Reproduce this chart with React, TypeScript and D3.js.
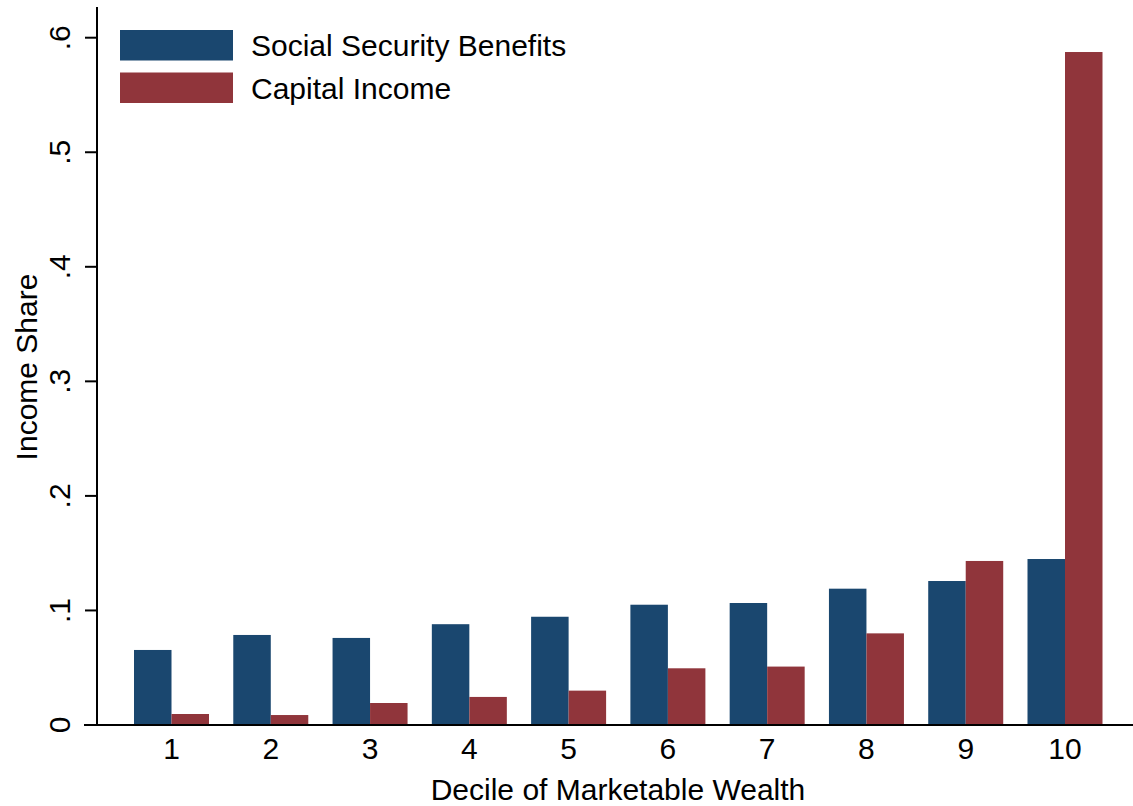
import React from "react";
import * as d3 from "d3";

const deciles = [1, 2, 3, 4, 5, 6, 7, 8, 9, 10];
const socialSecurity = [0.0655, 0.0786, 0.076, 0.088, 0.0945, 0.105, 0.1065, 0.119, 0.1257, 0.1449];
const capitalIncome = [0.0096, 0.0087, 0.0192, 0.0245, 0.03, 0.0495, 0.051, 0.080, 0.1432, 0.5875];
const yTicks = [0, 0.1, 0.2, 0.3, 0.4, 0.5, 0.6];
const yTickLabels = ["0", ".1", ".2", ".3", ".4", ".5", ".6"];
const seriesNames = ["Social Security Benefits", "Capital Income"];
const colors = ["#1a476f", "#90353b"];

const W = 1133;
const H = 806;
const FONT = "'Liberation Sans', Arial, Helvetica, sans-serif";
const FS = 30;

export default function App() {
  const x = d3.scaleLinear().domain([1, 10]).range([171.5, 1065]);
  const y = d3.scaleLinear().domain([0, 0.6]).range([725, 37.7]);
  const barW = 37.5;
  const axisX = 97;
  const baseY = y(0);

  return (
    <svg width={W} height={H} style={{ position: "absolute", left: 0, top: 0 }} fontFamily={FONT}>
      <rect width={W} height={H} fill="#fff" />
      {deciles.map((d, i) => (
        <g key={d}>
          <rect x={x(d) - barW} y={y(socialSecurity[i])} width={barW} height={baseY - y(socialSecurity[i])} fill={colors[0]} />
          <rect x={x(d)} y={y(capitalIncome[i])} width={barW} height={baseY - y(capitalIncome[i])} fill={colors[1]} />
        </g>
      ))}
      {/* axes */}
      <line x1={axisX} x2={axisX} y1={7} y2={baseY} stroke="#000" strokeWidth={2} />
      <line x1={84} x2={W} y1={baseY} y2={baseY} stroke="#000" strokeWidth={2} />
      {yTicks.map((t, i) => (
        <g key={t}>
          <line x1={85} x2={axisX} y1={y(t)} y2={y(t)} stroke="#000" strokeWidth={2} />
          <text
            transform={`translate(70,${y(t)}) rotate(-90)`}
            textAnchor="middle"
            fontSize={FS}
            fill="#000"
          >
            {yTickLabels[i]}
          </text>
        </g>
      ))}
      {deciles.map((d) => (
        <text key={d} x={x(d)} y={759} textAnchor="middle" fontSize={FS} fill="#000">
          {d}
        </text>
      ))}
      <text x={618} y={800} textAnchor="middle" fontSize={FS} fill="#000">
        Decile of Marketable Wealth
      </text>
      <text transform={`translate(37,367) rotate(-90)`} textAnchor="middle" fontSize={FS} fill="#000">
        Income Share
      </text>
      {/* legend */}
      {seriesNames.map((n, i) => (
        <g key={n}>
          <rect x={120} y={30 + i * 42.5} width={113} height={30.5} fill={colors[i]} />
          <text x={251} y={56 + i * 42.5} fontSize={FS} fill="#000">
            {n}
          </text>
        </g>
      ))}
    </svg>
  );
}
